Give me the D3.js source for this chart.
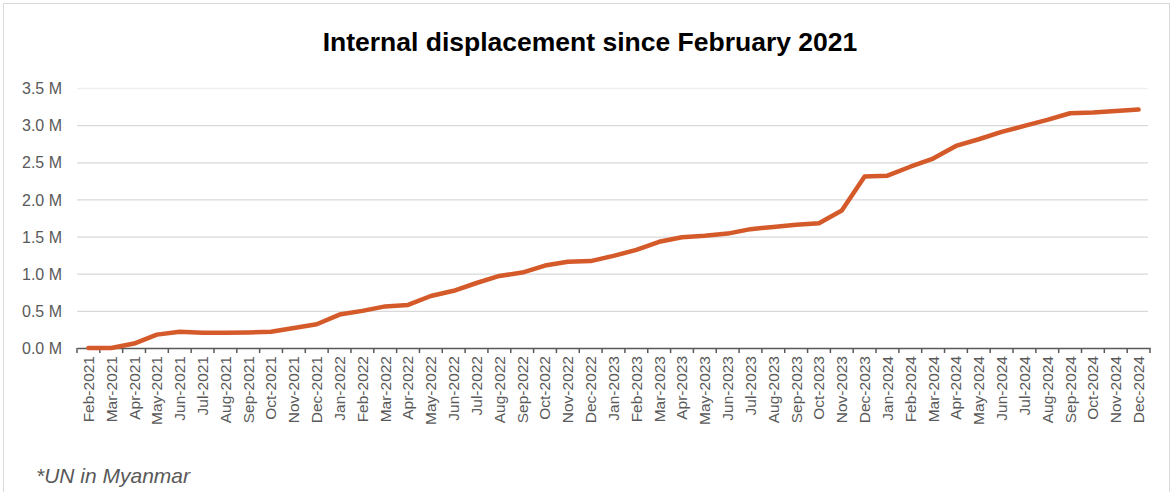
<!DOCTYPE html>
<html>
<head>
<meta charset="utf-8">
<script src="https://cdn.jsdelivr.net/npm/d3@7"></script>
<style>
  body { margin: 0; background: #fff; }
  svg { font-family: "Liberation Sans", Arial, sans-serif; }
</style>
</head>
<body>
<svg id="chart" width="1173" height="492"></svg>
<script>
// months shown on the x axis
var months = ["Feb-2021","Mar-2021","Apr-2021","May-2021","Jun-2021","Jul-2021","Aug-2021","Sep-2021","Oct-2021","Nov-2021","Dec-2021",
  "Jan-2022","Feb-2022","Mar-2022","Apr-2022","May-2022","Jun-2022","Jul-2022","Aug-2022","Sep-2022","Oct-2022","Nov-2022","Dec-2022",
  "Jan-2023","Feb-2023","Mar-2023","Apr-2023","May-2023","Jun-2023","Jul-2023","Aug-2023","Sep-2023","Oct-2023","Nov-2023","Dec-2023",
  "Jan-2024","Feb-2024","Mar-2024","Apr-2024","May-2024","Jun-2024","Jul-2024","Aug-2024","Sep-2024","Oct-2024","Nov-2024","Dec-2024"];

// displaced people, millions
var displaced = [0.0, 0.0, 0.06, 0.18, 0.22, 0.205, 0.205, 0.21, 0.22, 0.27, 0.32,
  0.45, 0.50, 0.56, 0.58, 0.70, 0.77, 0.875, 0.97, 1.015, 1.11, 1.16, 1.17,
  1.24, 1.32, 1.43, 1.49, 1.51, 1.54, 1.60, 1.63, 1.66, 1.68, 1.85, 2.31,
  2.32, 2.44, 2.55, 2.72, 2.81, 2.91, 2.99, 3.07, 3.16, 3.17, 3.19, 3.21];

var yTicks = [0, 0.5, 1.0, 1.5, 2.0, 2.5, 3.0, 3.5];

var title = "Internal displacement since February 2021";
var note = "*UN in Myanmar";

var svg = d3.select("#chart");
var plotLeft = 77, plotRight = 1150, plotTop = 88, plotBottom = 348;

// outer frame
svg.append("rect")
  .attr("x", 3.5).attr("y", 3.5)
  .attr("width", 1166).attr("height", 500)
  .attr("fill", "none")
  .attr("stroke", "#d9d9d9")
  .attr("stroke-width", 1);

var xScale = d3.scaleBand().domain(months).range([plotLeft, plotRight]);
var yScale = d3.scaleLinear().domain([0, 3.5]).range([plotBottom, plotTop]);

// gridlines
svg.append("g")
  .selectAll("line")
  .data(yTicks.filter(function (d) { return d > 0; }))
  .enter()
  .append("line")
  .attr("x1", plotLeft)
  .attr("x2", plotRight - 2)
  .attr("y1", function (d) { return yScale(d) + 0.5; })
  .attr("y2", function (d) { return yScale(d) + 0.5; })
  .attr("stroke", function (d) { return d == 3.5 ? "#f0f0f0" : "#d9d9d9"; })
  .attr("stroke-width", 1.3);

// y axis labels
var yAxis = d3.axisLeft(yScale)
  .tickValues(yTicks)
  .tickSize(0)
  .tickPadding(15)
  .tickFormat(function (d) { return d3.format(".1f")(d) + " M"; });

var yg = svg.append("g")
  .attr("transform", "translate(" + plotLeft + ",0)")
  .call(yAxis);
yg.select(".domain").remove();
yg.selectAll("text")
  .attr("fill", "#595959")
  .style("font-size", "16px")
  .style("font-family", "'Liberation Sans', Arial, sans-serif")
  .attr("dy", "0.35em");

// x axis with ticks at category boundaries
var xAxis = d3.axisBottom(xScale).tickSize(0).tickPadding(0);
var xg = svg.append("g")
  .attr("transform", "translate(0," + plotBottom + ")")
  .call(xAxis);
xg.select(".domain")
  .attr("stroke", "#595959")
  .attr("stroke-width", 1.5);
xg.selectAll("text")
  .attr("fill", "#595959")
  .style("font-size", "15.5px")
  .style("font-family", "'Liberation Sans', Arial, sans-serif")
  .style("text-anchor", "end")
  .attr("transform", "rotate(-90)")
  .attr("x", -8)
  .attr("y", 0)
  .attr("dy", "0.35em");

var bounds = months.map(function (m) { return xScale(m); }).concat([plotRight]);
xg.selectAll("line.bound")
  .data(bounds)
  .enter()
  .append("line")
  .attr("class", "bound")
  .attr("x1", function (d) { return d; })
  .attr("x2", function (d) { return d; })
  .attr("y1", 0)
  .attr("y2", 5)
  .attr("stroke", "#595959")
  .attr("stroke-width", 1.5);

// the series line
var line = d3.line()
  .x(function (d, i) { return xScale(months[i]) + xScale.bandwidth() / 2; })
  .y(function (d) { return yScale(d); });

svg.append("path")
  .datum(displaced)
  .attr("d", line)
  .attr("fill", "none")
  .attr("stroke", "#d55a2a")
  .attr("stroke-width", 4.5)
  .attr("stroke-linejoin", "round")
  .attr("stroke-linecap", "round");

// title
svg.append("text")
  .attr("x", 590)
  .attr("y", 51)
  .attr("text-anchor", "middle")
  .style("font-size", "26.5px")
  .style("font-weight", "bold")
  .attr("fill", "#000")
  .text(title);

// source note
svg.append("text")
  .attr("x", 36)
  .attr("y", 483)
  .style("font-size", "21px")
  .style("font-style", "italic")
  .attr("fill", "#595959")
  .text(note);
</script>
</body>
</html>
